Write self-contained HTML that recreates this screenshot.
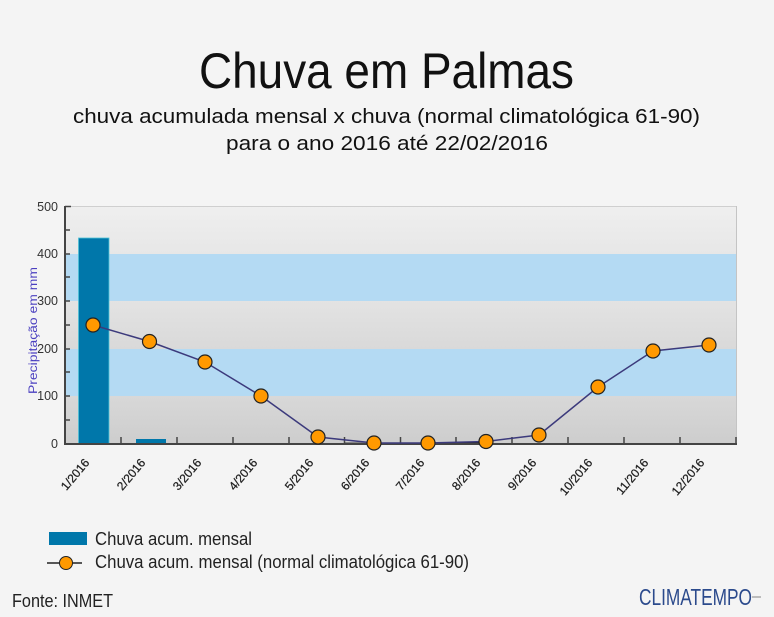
<!DOCTYPE html>
<html>
<head>
<meta charset="utf-8">
<style>
html,body{margin:0;padding:0;background:#f4f4f4;}
svg{display:block;}
text{font-family:"Liberation Sans",sans-serif;}
</style>
</head>
<body>
<svg width="774" height="617" viewBox="0 0 774 617" xmlns="http://www.w3.org/2000/svg">
<defs>
<linearGradient id="g1" x1="0" y1="0" x2="0" y2="1"><stop offset="0" stop-color="#efefef"/><stop offset="1" stop-color="#e7e7e7"/></linearGradient>
<linearGradient id="g2" x1="0" y1="0" x2="0" y2="1"><stop offset="0" stop-color="#e3e3e3"/><stop offset="1" stop-color="#d9d9d9"/></linearGradient>
<linearGradient id="g3" x1="0" y1="0" x2="0" y2="1"><stop offset="0" stop-color="#d8d8d8"/><stop offset="1" stop-color="#cdcdcd"/></linearGradient>
<clipPath id="lc"><rect x="0" y="445" width="774" height="55"/></clipPath>
</defs>
<rect x="0" y="0" width="774" height="617" fill="#f4f4f4"/>

<!-- Titles -->
<text x="199" y="88" font-size="50" fill="#111" textLength="375" lengthAdjust="spacingAndGlyphs">Chuva em Palmas</text>
<text x="73" y="123" font-size="20" fill="#111" textLength="627" lengthAdjust="spacingAndGlyphs">chuva acumulada mensal x chuva (normal climatológica 61-90)</text>
<text x="226" y="150" font-size="20" fill="#111" textLength="322" lengthAdjust="spacingAndGlyphs">para o ano 2016 até 22/02/2016</text>

<!-- Plot bands -->
<rect x="65" y="206" width="671" height="48" fill="url(#g1)"/>
<rect x="65" y="254" width="671" height="47" fill="#b4daf3"/>
<rect x="65" y="301" width="671" height="48" fill="url(#g2)"/>
<rect x="65" y="349" width="671" height="47" fill="#b4daf3"/>
<rect x="65" y="396" width="671" height="48" fill="url(#g3)"/>
<line x1="65" y1="206.5" x2="736" y2="206.5" stroke="#cfcfcf" stroke-width="1"/>
<line x1="736.5" y1="206" x2="736.5" y2="444" stroke="#c4c4c4" stroke-width="1"/>

<!-- Bars -->
<rect x="78.5" y="238" width="30.5" height="206" fill="#0077aa" stroke="#4fc3d8" stroke-width="0.8"/>
<rect x="136" y="439" width="30" height="5" fill="#0077aa"/>
<line x1="345" y1="443" x2="378" y2="443" stroke="#888" stroke-width="2"/>
<line x1="456" y1="443" x2="486" y2="443" stroke="#222" stroke-width="2"/>

<!-- Axes -->
<line x1="65" y1="206" x2="65" y2="445" stroke="#444" stroke-width="2"/>
<line x1="64" y1="444" x2="737" y2="444" stroke="#444" stroke-width="2"/>
<g stroke="#444" stroke-width="1.5">
<line x1="65" y1="206.5" x2="71" y2="206.5"/>
<line x1="65" y1="230" x2="70" y2="230"/>
<line x1="65" y1="254" x2="70" y2="254"/>
<line x1="65" y1="277" x2="70" y2="277"/>
<line x1="65" y1="301" x2="70" y2="301"/>
<line x1="65" y1="325" x2="70" y2="325"/>
<line x1="65" y1="349" x2="70" y2="349"/>
<line x1="65" y1="372" x2="70" y2="372"/>
<line x1="65" y1="396" x2="70" y2="396"/>
<line x1="65" y1="420" x2="70" y2="420"/>
<line x1="121" y1="444" x2="121" y2="437"/>
<line x1="177" y1="444" x2="177" y2="437"/>
<line x1="233" y1="444" x2="233" y2="437"/>
<line x1="289" y1="444" x2="289" y2="437"/>
<line x1="344.5" y1="444" x2="344.5" y2="437"/>
<line x1="400.5" y1="444" x2="400.5" y2="437"/>
<line x1="456" y1="444" x2="456" y2="437"/>
<line x1="512" y1="444" x2="512" y2="437"/>
<line x1="568" y1="444" x2="568" y2="437"/>
<line x1="624" y1="444" x2="624" y2="437"/>
<line x1="680" y1="444" x2="680" y2="437"/>
<line x1="736" y1="444" x2="736" y2="437"/>
</g>

<!-- Y tick labels -->
<g font-size="12.5" fill="#333" text-anchor="end">
<text x="58" y="211">500</text>
<text x="58" y="258">400</text>
<text x="58" y="305">300</text>
<text x="58" y="353">200</text>
<text x="58" y="400">100</text>
<text x="58" y="448">0</text>
</g>

<!-- Y axis title -->
<text transform="translate(37,394) rotate(-90)" font-size="12" fill="#4a3fc0" textLength="127" lengthAdjust="spacingAndGlyphs">Precipitação em mm</text>

<!-- X labels -->
<g font-size="12" fill="#222" stroke="#222" stroke-width="0.25" text-anchor="end" clip-path="url(#lc)">
<text transform="translate(90,463) rotate(-50)">1/2016</text>
<text transform="translate(146,463) rotate(-50)">2/2016</text>
<text transform="translate(202,463) rotate(-50)">3/2016</text>
<text transform="translate(258,463) rotate(-50)">4/2016</text>
<text transform="translate(314,463) rotate(-50)">5/2016</text>
<text transform="translate(370,463) rotate(-50)">6/2016</text>
<text transform="translate(425,463) rotate(-50)">7/2016</text>
<text transform="translate(481,463) rotate(-50)">8/2016</text>
<text transform="translate(537,463) rotate(-50)">9/2016</text>
<text transform="translate(593,463) rotate(-50)">10/2016</text>
<text transform="translate(649,463) rotate(-50)">11/2016</text>
<text transform="translate(705,463) rotate(-50)">12/2016</text>
</g>

<!-- Line series -->
<polyline fill="none" stroke="#3c3a7c" stroke-width="1.5" points="93,325 149.5,341.5 205,362 261,396 318,437 374,443 428,443 486,441.5 539,435 598,387 653,351 709,345"/>
<g fill="#ff9900" stroke="#222" stroke-width="1.2">
<circle cx="93" cy="325" r="7"/>
<circle cx="149.5" cy="341.5" r="7"/>
<circle cx="205" cy="362" r="7"/>
<circle cx="261" cy="396" r="7"/>
<circle cx="318" cy="437" r="7"/>
<circle cx="374" cy="443" r="7"/>
<circle cx="428" cy="443" r="7"/>
<circle cx="486" cy="441.5" r="7"/>
<circle cx="539" cy="435" r="7"/>
<circle cx="598" cy="387" r="7"/>
<circle cx="653" cy="351" r="7"/>
<circle cx="709" cy="345" r="7"/>
</g>

<!-- Legend -->
<rect x="49" y="532" width="38" height="13" fill="#0077aa"/>
<text x="95" y="545" font-size="18" fill="#222" textLength="157" lengthAdjust="spacingAndGlyphs">Chuva acum. mensal</text>
<line x1="47" y1="563" x2="82" y2="563" stroke="#222" stroke-width="1.5"/>
<circle cx="66" cy="563" r="6.5" fill="#ff9900" stroke="#222" stroke-width="1"/>
<text x="95" y="568" font-size="18" fill="#222" textLength="374" lengthAdjust="spacingAndGlyphs">Chuva acum. mensal (normal climatológica 61-90)</text>

<!-- Footer -->
<text x="12" y="607" font-size="18" fill="#222" textLength="101" lengthAdjust="spacingAndGlyphs">Fonte: INMET</text>
<text x="639" y="605" font-size="23" fill="#2b4a8c" textLength="113" lengthAdjust="spacingAndGlyphs">CLIMATEMPO</text>
<line x1="752" y1="597" x2="761" y2="597" stroke="#aaa" stroke-width="1.5"/>
</svg>
</body>
</html>
